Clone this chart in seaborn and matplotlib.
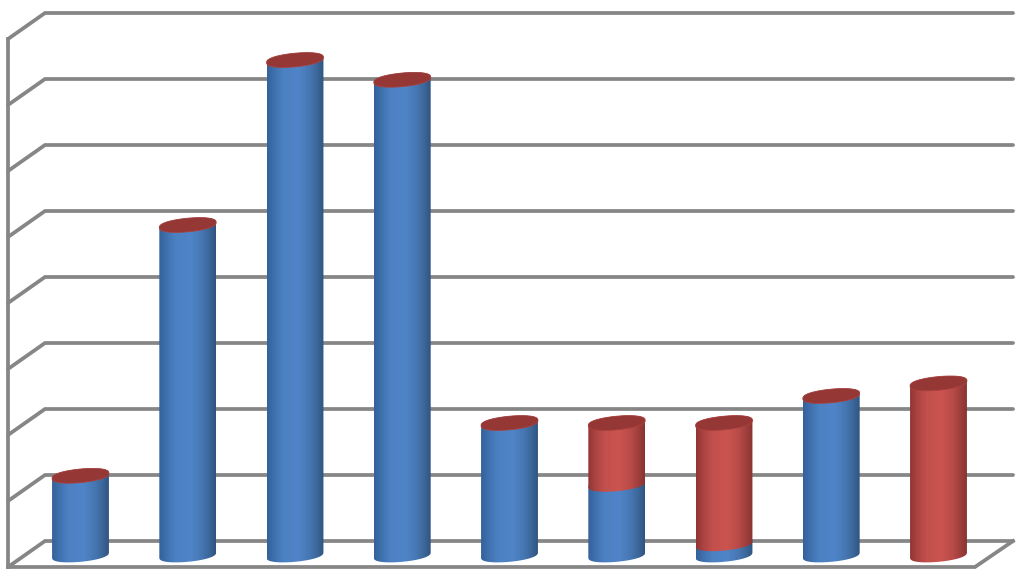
import numpy as np
import pandas as pd
import matplotlib
matplotlib.use('Agg')
import matplotlib.pyplot as plt
from matplotlib.colors import LinearSegmentedColormap
from matplotlib.patches import Polygon
import seaborn as sns

categories = ['1', '2', '3', '4', '5', '6', '7', '8', '9']
blue_values = [1.2, 5.0, 7.5, 7.2, 2.0, 1.07, 0.17, 2.41, 0.0]
red_values = [0.0, 0.0, 0.0, 0.0, 0.0, 0.93, 1.83, 0.0, 2.6]
grid_levels = [0, 1, 2, 3, 4, 5, 6, 7, 8]

totals = [b + r for b, r in zip(blue_values, red_values)]
df = pd.DataFrame({'cat': categories, 'blue': blue_values, 'total': totals})

# pixels per unit, used for the fake 3d depth
px_x = 107.25
px_y = 66.0
ell_b = 6.8 / px_y
ell_s = 2.6 / px_y
back_y = 14 / px_y
front_y = -12 / px_y
back_x = -0.331
front_x = -0.676
right_back = 8.695
right_front = 8.34
grid_col = '#868686'

blue_cmap = LinearSegmentedColormap.from_list('b', [(0, '#33619a'), (0.12, '#3f70ad'), (0.3, '#4c82c4'),
                                                    (0.55, '#4f85c8'), (0.75, '#4777b3'), (0.9, '#3a6597'),
                                                    (1, '#2f5480')])
red_cmap = LinearSegmentedColormap.from_list('r', [(0, '#8f3533'), (0.12, '#aa4341'), (0.3, '#c3504d'),
                                                   (0.55, '#cb544f'), (0.75, '#b94b48'), (0.9, '#9c3e3b'),
                                                   (1, '#883331')])

sns.set_style('white')
fig = plt.figure(figsize=(10.24, 5.76), dpi=100)
ax = fig.add_axes([0, 0, 1, 1])

sns.barplot(data=df, x='cat', y='total', color='#c0504d', width=0.53, ax=ax, saturation=1, zorder=3)
sns.barplot(data=df, x='cat', y='blue', color='#4f81bd', width=0.53, ax=ax, saturation=1, zorder=3)

ax.set_xlim(-80.5 / px_x, (1024 - 80.5) / px_x)
ax.set_ylim(-21 / px_y, 555 / px_y)
ax.set_axis_off()


def arc(cx, half, v, start, end):
    t = np.linspace(start, end, 80)
    # exponent below 1 keeps the ends of the ellipse round instead of pointed
    bulge = np.sign(np.sin(t)) * np.abs(np.sin(t)) ** 0.8
    return np.column_stack([cx + half * np.cos(t), v + ell_b * bulge + ell_s * np.cos(t)])


def cylinder(patch, cmap):
    x0 = patch.get_x()
    w = patch.get_width()
    v0 = patch.get_y()
    v1 = v0 + patch.get_height()
    patch.set_visible(False)
    if v1 <= v0:
        return
    cx = x0 + w / 2
    # lower arc of the base, then upper arc of the top
    pts = np.vstack([arc(cx, w / 2, v0, np.pi, 2 * np.pi), arc(cx, w / 2, v1, 0, np.pi)])
    shape = Polygon(pts, closed=True, transform=ax.transData, fc='none', ec='none')
    ax.add_patch(shape)
    im = ax.imshow(np.linspace(0, 1, 128).reshape(1, -1), cmap=cmap, aspect='auto', zorder=3,
                   extent=[x0, x0 + w, v0 - 0.2, v1 + 0.2])
    im.set_clip_path(shape)


# back wall, side wall and floor
for g in grid_levels:
    y = g + back_y
    ax.plot([front_x, back_x, right_back], [g + front_y, y, y], color=grid_col, lw=2.7, zorder=1,
            solid_joinstyle='miter')
ax.plot([front_x, front_x], [front_y, grid_levels[-1] + front_y], color=grid_col, lw=2.7, zorder=1,
        solid_capstyle='projecting')
ax.plot([front_x, right_front, right_back], [front_y, front_y, back_y], color=grid_col, lw=2.7, zorder=1,
        solid_joinstyle='miter', solid_capstyle='projecting')

n = len(categories)
red_bars = ax.patches[:n]
blue_bars = ax.patches[n:2 * n]
for i in range(n):
    rb = red_bars[i]
    bb = blue_bars[i]
    bx, bw = bb.get_x(), bb.get_width()
    rb.set_y(blue_values[i])
    rb.set_height(red_values[i])
    cylinder(bb, blue_cmap)
    cylinder(rb, red_cmap)
    top = arc(bx + bw / 2, bw / 2, totals[i], 0, 2 * np.pi)
    ax.add_patch(Polygon(top, closed=True, fc='#953735', ec='#a8413e', lw=0.6, zorder=4))

ax.set_xlim(-80.5 / px_x, (1024 - 80.5) / px_x)
ax.set_ylim(-21 / px_y, 555 / px_y)

plt.savefig('out.png', dpi=100)
